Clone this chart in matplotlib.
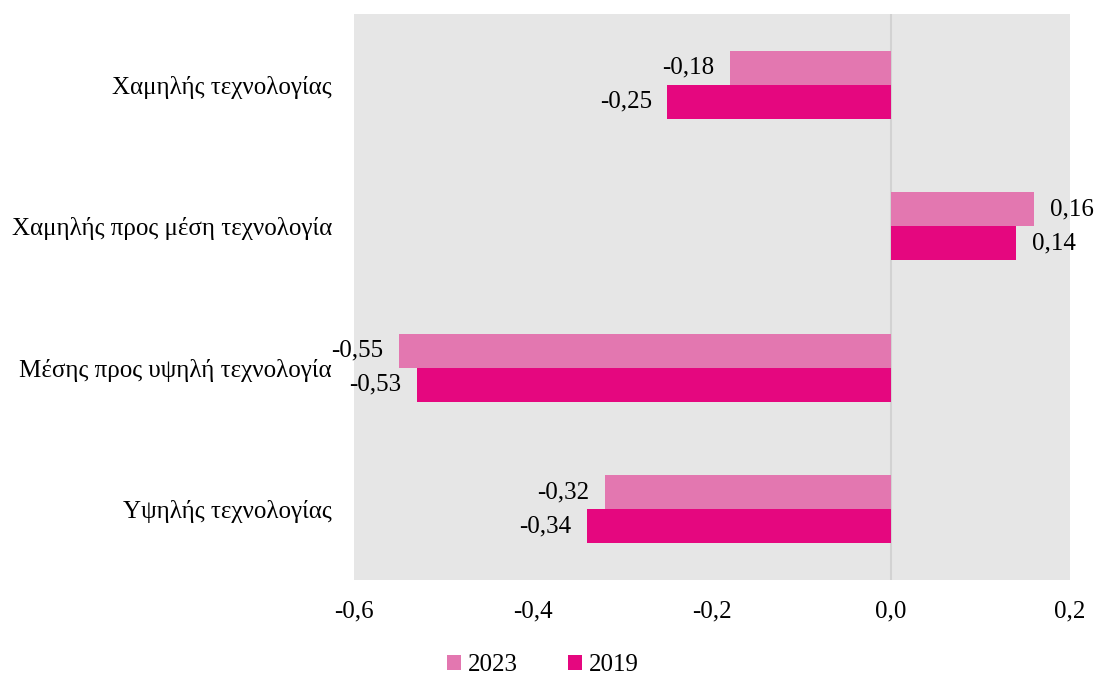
import matplotlib
matplotlib.use("Agg")
import matplotlib.pyplot as plt
import numpy as np

categories = ["Χαμηλής τεχνολογίας", "Χαμηλής προς μέση τεχνολογία",
              "Μέσης προς υψηλή τεχνολογία", "Υψηλής τεχνολογίας"]
series_names = ["2023", "2019"]
values_2023 = [-0.18, 0.16, -0.55, -0.32]
values_2019 = [-0.25, 0.14, -0.53, -0.34]
xticks = [-0.6, -0.4, -0.2, 0.0, 0.2]
xtick_labels = ["-0,6", "-0,4", "-0,2", "0,0", "0,2"]

c2023 = "#e377b0"
c2019 = "#e5077f"

plt.rcParams['font.family'] = ['Liberation Serif', 'DejaVu Serif']
FS = 18
fig = plt.figure(figsize=(10.95, 6.75), dpi=100)
ax = fig.add_axes([0.3233, 0.1407, 0.6539, 0.8386])
ax.set_facecolor("#e6e6e6")

n = len(categories)
y = np.arange(n)
h = 0.24
b1 = ax.barh(y - h/2, values_2023, height=h, color=c2023, label=series_names[0], zorder=2)
b2 = ax.barh(y + h/2, values_2019, height=h, color=c2019, label=series_names[1], zorder=2)
ax.axvline(0, color="#d2d2d2", lw=1.5, zorder=1)

def fmt(v):
    return f"{v:.2f}".replace(".", ",")

for bars, vals in ((b1, values_2023), (b2, values_2019)):
    for bar, v in zip(bars, vals):
        yc = bar.get_y() + bar.get_height()/2
        if v < 0:
            ax.annotate(fmt(v), (v, yc), xytext=(-11, 0), textcoords="offset points",
                        ha="right", va="center", fontsize=FS)
        else:
            ax.annotate(fmt(v), (v, yc), xytext=(11, 0), textcoords="offset points",
                        ha="left", va="center", fontsize=FS)

ax.set_ylim(n - 0.5, -0.5)
ax.set_yticks(y)
ax.set_yticklabels(categories, fontsize=FS)
ax.set_xlim(-0.6, 0.2)
ax.set_xticks(xticks)
ax.set_xticklabels(xtick_labels, fontsize=FS)
ax.tick_params(axis='x', length=0, pad=15)
ax.tick_params(axis='y', length=0, pad=16)
for s in ax.spines.values():
    s.set_visible(False)

fig.legend(loc="center", bbox_to_anchor=(543/1095, 1 - 665/675), ncol=2, frameon=False,
           fontsize=FS, handlelength=0.55, handleheight=0.55, handletextpad=0.3, columnspacing=2.0)
fig.savefig("out.png", dpi=100)
